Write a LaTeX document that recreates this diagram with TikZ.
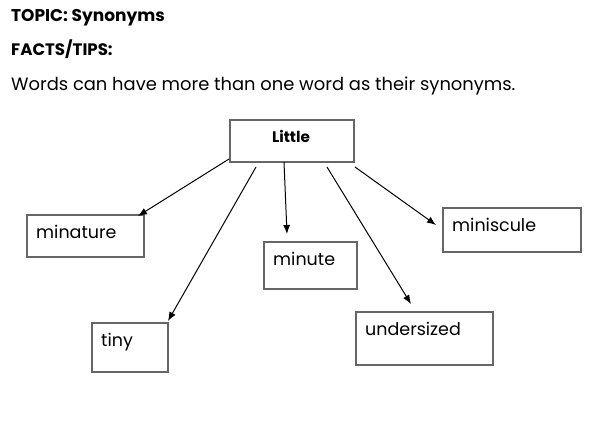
\documentclass[tikz,border=0pt]{standalone}
\usepackage{fontspec}
\setmainfont{Poppins}
\usetikzlibrary{arrows.meta}
\definecolor{boxgray}{HTML}{666666}
\begin{document}
\begin{tikzpicture}[x=1pt,y=-1pt,
  box/.style={draw=boxgray, line width=1.5pt, inner sep=0pt, anchor=north west},
  lbl/.style={anchor=base west, inner sep=0pt, font=\fontsize{17.5}{20}\selectfont},
  head/.style={anchor=base west, inner sep=0pt, font=\fontsize{17}{20}\selectfont\bfseries},
  arr/.style={-{Latex[length=9pt,width=7pt]}, line width=1pt, black}]
\useasboundingbox (0,0) rectangle (590,440);
\node[head] (topic) at (11,21) {TOPIC: Synonyms};
\node[head, font=\fontsize{16.6}{20}\selectfont\bfseries] (facts) at (11,55) {FACTS/TIPS:};
\node[lbl, font=\fontsize{17.9}{20}\selectfont] (words) at (11,90) {Words can have more than one word as their synonyms.};
% center box
\node[box, minimum width=124pt, minimum height=42pt] (little) at (229,119) {};
\node[anchor=base, inner sep=0pt, font=\fontsize{15.2}{18}\selectfont\bfseries] (littlet) at (291,142) {Little};
% leaf boxes
\node[box, minimum width=117pt, minimum height=42pt] (minature) at (26,214) {};
\node[lbl] (minaturet) at (36,238) {minature};
\node[box, minimum width=76pt, minimum height=49pt] (tiny) at (91,322) {};
\node[lbl] (tinyt) at (101,346) {tiny};
\node[box, minimum width=93pt, minimum height=47pt] (minute) at (263,241) {};
\node[lbl] (minutet) at (273,265) {minute};
\node[box, minimum width=138pt, minimum height=44pt] (miniscule) at (442,207) {};
\node[lbl] (minisculet) at (452,231) {miniscule};
\node[box, minimum width=137pt, minimum height=53pt] (undersized) at (355,311) {};
\node[lbl] (undersizedt) at (365,335) {undersized};
% arrow endpoints
\coordinate (s1) at (229,159);
\coordinate (e1) at (138,216);
\coordinate (s2) at (256,167);
\coordinate (e2) at (168,321);
\coordinate (s3) at (284,162);
\coordinate (e3) at (287,234);
\coordinate (s4) at (327,167);
\coordinate (e4) at (411,304);
\coordinate (s5) at (355,167);
\coordinate (e5) at (436,225);
\draw[arr] (s1) -- (e1);
\draw[arr] (s2) -- (e2);
\draw[arr] (s3) -- (e3);
\draw[arr] (s4) -- (e4);
\draw[arr] (s5) -- (e5);
\end{tikzpicture}
\end{document}
